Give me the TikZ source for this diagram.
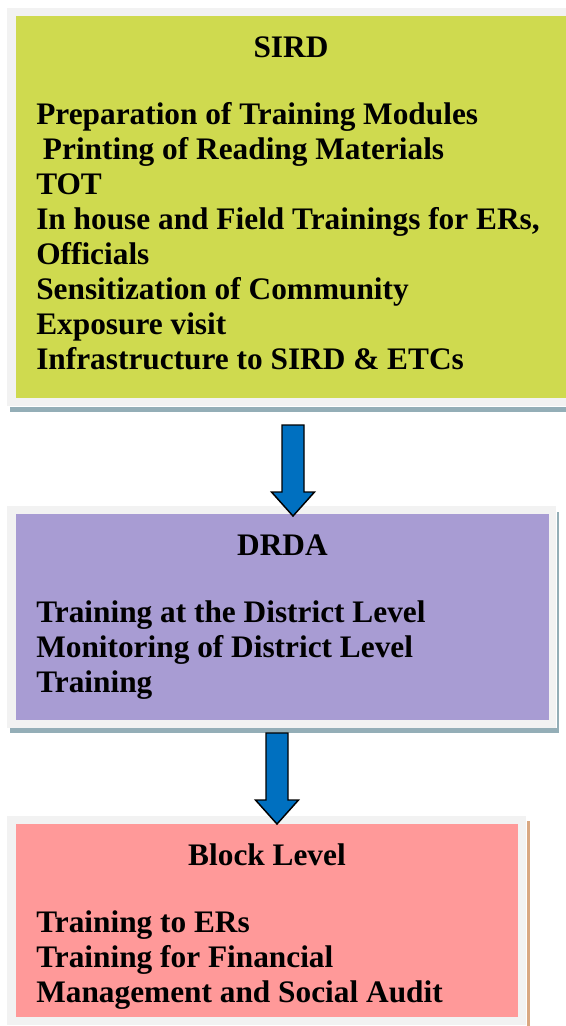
\documentclass[tikz,border=0pt]{standalone}
\usepackage{fontspec}
\setmainfont{Liberation Serif}
\usetikzlibrary{calc}
\definecolor{frameg}{HTML}{F2F2F2}
\definecolor{sirdc}{HTML}{CFDA4F}
\definecolor{drdac}{HTML}{A89CD3}
\definecolor{blockc}{HTML}{FF9999}
\definecolor{shadowb}{HTML}{94AEB7}
\definecolor{shadowt}{HTML}{D9A882}
\definecolor{arrowc}{HTML}{0070C0}
\tikzset{
  outerbox/.style={fill=frameg, draw=none},
  innerbox/.style={draw=none},
  txt/.style={anchor=base west, inner sep=0pt, font=\fontsize{23.5}{28}\selectfont\bfseries},
  ttl/.style={anchor=base, inner sep=0pt, font=\fontsize{23.5}{28}\selectfont\bfseries},
  fatarrow/.style={fill=arrowc, draw=black, line width=1.1pt, line join=miter}
}
\begin{document}
\begin{tikzpicture}[x=0.75pt,y=-0.75pt]
\useasboundingbox (0,0) rectangle (566,1026);
% ---- SIRD box
\fill[shadowb] (10,406.5) rectangle (566,411.5);
\path[outerbox] (7,8) rectangle (566,406);
\path[innerbox, fill=sirdc] (15.7,16) rectangle (566,398);
\node[ttl] (sirdt) at (291,57) {SIRD};
\node[txt] (s1) at (36,124.3) {Preparation of Training Modules};
\node[txt] (s2) at (42.7,159.3) {Printing of Reading Materials};
\node[txt] (s3) at (36,194.3) {TOT};
\node[txt] (s4) at (36,229.3) {In house and Field Trainings for ERs,};
\node[txt] (s5) at (36,264.3) {Officials};
\node[txt] (s6) at (36,299.3) {Sensitization of Community};
\node[txt] (s7) at (36,334.3) {Exposure visit};
\node[txt] (s8) at (36,369.3) {Infrastructure to SIRD \& ETCs};
% ---- DRDA box
\fill[shadowb] (10,728) rectangle (559,733);
\fill[shadowb] (556.5,512) rectangle (559,733);
\path[outerbox] (7,506) rectangle (556,727.5);
\path[innerbox, fill=drdac] (15.7,514) rectangle (549,720);
\node[ttl] (drdat) at (282.5,555) {DRDA};
\node[txt] (d1) at (36,622) {Training at the District Level};
\node[txt] (d2) at (36,657) {Monitoring of District Level};
\node[txt] (d3) at (36,692) {Training};
% ---- Block box
\fill[shadowt] (527,821) rectangle (529.5,1026);
\path[outerbox] (7,816) rectangle (526,1025);
\path[innerbox, fill=blockc] (15.7,824) rectangle (518,1017);
\node[ttl] (blockt) at (267,865) {Block Level};
\node[txt] (b1) at (36,932) {Training to ERs};
\node[txt] (b2) at (36,967) {Training for Financial};
\node[txt] (b3) at (36,1002) {Management and Social Audit};
% ---- arrows
\coordinate (a1top) at (293,425);
\coordinate (a1tip) at (293,516);
\coordinate (a2top) at (277,733);
\coordinate (a2tip) at (277,824);
\draw[fatarrow] ($(a1top)+(-11,0)$) -- ($(a1top)+(11,0)$) -- ($(a1tip)+(11,-24)$) -- ($(a1tip)+(21.5,-24)$) -- (a1tip) -- ($(a1tip)+(-21.5,-24)$) -- ($(a1tip)+(-11,-24)$) -- cycle;
\draw[fatarrow] ($(a2top)+(-11,0)$) -- ($(a2top)+(11,0)$) -- ($(a2tip)+(11,-24)$) -- ($(a2tip)+(21.5,-24)$) -- (a2tip) -- ($(a2tip)+(-21.5,-24)$) -- ($(a2tip)+(-11,-24)$) -- cycle;
\end{tikzpicture}
\end{document}
